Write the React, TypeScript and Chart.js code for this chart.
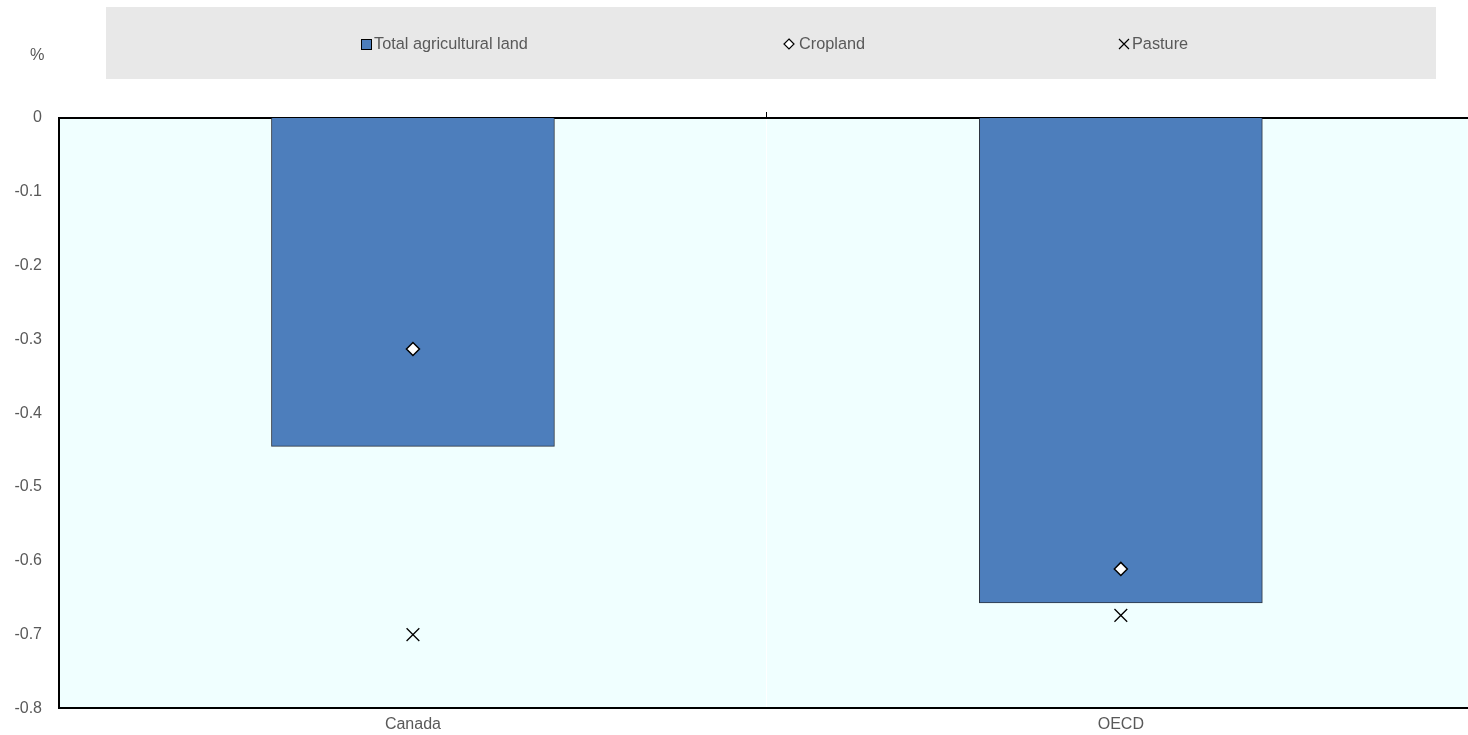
import React, { useEffect, useRef } from "react";
import { Chart, registerables } from "chart.js";

Chart.register(...registerables);

const categories = ["Canada", "OECD"];
const totalAgriculturalLand = [-0.445, -0.657];
const cropland = [-0.313, -0.611];
const pasture = [-0.7, -0.674];
const yTicks = [0, -0.1, -0.2, -0.3, -0.4, -0.5, -0.6, -0.7, -0.8];

const FONT = "'Liberation Sans', Arial, sans-serif";
const TEXT = "#595959";

const decorPlugin = {
  id: "decor",
  beforeDraw(chart: any) {
    const { ctx, chartArea } = chart;
    ctx.save();
    ctx.fillStyle = "#e8e8e8";
    ctx.fillRect(106, 7, 1330, 72);
    ctx.fillStyle = "#f0ffff";
    ctx.fillRect(chartArea.left, chartArea.top, chartArea.right - chartArea.left, chartArea.bottom - chartArea.top);
    ctx.restore();
  },
  afterDraw(chart: any) {
    const { ctx } = chart;
    ctx.save();
    ctx.font = `16.3px ${FONT}`;
    ctx.fillStyle = TEXT;
    ctx.textBaseline = "middle";
    ctx.textAlign = "left";
    ctx.fillText("%", 30, 56);
    const cy = 44;
    ctx.fillStyle = "#4d7ebc";
    ctx.fillRect(361, cy - 5, 10, 10);
    ctx.strokeStyle = "#000";
    ctx.lineWidth = 1;
    ctx.strokeRect(361.5, cy - 4.5, 10, 10);
    ctx.fillStyle = TEXT;
    ctx.fillText("Total agricultural land", 374, cy + 1);
    ctx.beginPath();
    ctx.moveTo(789, cy - 5);
    ctx.lineTo(794, cy);
    ctx.lineTo(789, cy + 5);
    ctx.lineTo(784, cy);
    ctx.closePath();
    ctx.fillStyle = "#fff";
    ctx.fill();
    ctx.strokeStyle = "#000";
    ctx.lineWidth = 1.2;
    ctx.stroke();
    ctx.fillStyle = TEXT;
    ctx.fillText("Cropland", 799, cy + 1);
    ctx.beginPath();
    ctx.moveTo(1119, cy - 5);
    ctx.lineTo(1129, cy + 5);
    ctx.moveTo(1129, cy - 5);
    ctx.lineTo(1119, cy + 5);
    ctx.strokeStyle = "#000";
    ctx.lineWidth = 1.2;
    ctx.stroke();
    ctx.fillStyle = TEXT;
    ctx.fillText("Pasture", 1132, cy + 1);
    ctx.restore();
  },
};

const CANVAS_W = 1478;

export default function App() {
  const ref = useRef<HTMLCanvasElement>(null);
  useEffect(() => {
    if (!ref.current) return;
    const chart = new Chart(ref.current, {
      type: "bar",
      data: {
        datasets: [
          {
            type: "bar",
            label: "Total agricultural land",
            data: categories.map((_, i) => ({ x: i, y: totalAgriculturalLand[i] })),
            backgroundColor: "#4d7ebc",
            borderColor: "#2c3440",
            borderWidth: 1,
            barThickness: 283,
            order: 3,
            xAxisID: "x",
            yAxisID: "y",
          } as any,
          {
            type: "scatter",
            label: "Cropland",
            data: categories.map((_, i) => ({ x: i, y: cropland[i] })),
            pointStyle: "rectRot",
            pointRadius: 6.5,
            backgroundColor: "#ffffff",
            borderColor: "#000000",
            borderWidth: 1.5,
            order: 1,
            xAxisID: "x",
            yAxisID: "y",
          } as any,
          {
            type: "scatter",
            label: "Pasture",
            data: categories.map((_, i) => ({ x: i, y: pasture[i] })),
            pointStyle: "crossRot",
            pointRadius: 9,
            backgroundColor: "#000000",
            borderColor: "#000000",
            borderWidth: 1.3,
            order: 2,
            xAxisID: "x",
            yAxisID: "y",
          } as any,
        ],
      },
      options: {
        animation: false,
        responsive: false,
        layout: { padding: 0 },
        plugins: { legend: { display: false }, tooltip: { enabled: false } },
        scales: {
          x: {
            type: "linear",
            position: "bottom",
            offset: false,
            min: -0.5,
            max: 1.49,
            afterBuildTicks: (s: any) => {
              s.ticks = categories.map((_, i) => ({ value: i }));
            },
            afterFit: (s: any) => {
              s.height = 25;
            },
            ticks: {
              callback: (v: any) => categories[Math.round(Number(v))] ?? "",
              color: TEXT,
              font: { family: FONT, size: 16 },
              padding: 7,
              maxRotation: 0,
              autoSkip: false,
            },
            grid: { display: false, offset: false, tickLength: 0, drawTicks: false },
            border: { display: true, color: "#000", width: 2 },
          },
          x2: {
            type: "linear",
            position: "top",
            offset: false,
            min: -0.5,
            max: 1.49,
            afterBuildTicks: (s: any) => {
              s.ticks = [{ value: 0.5 }];
            },
            afterFit: (s: any) => {
              s.height = 118;
            },
            ticks: { display: false },
            grid: {
              display: true,
              offset: false,
              drawOnChartArea: true,
              color: "#ffffff",
              tickColor: "#000000",
              tickLength: 6,
              lineWidth: 1,
            },
            border: { display: true, color: "#000", width: 2 },
          },
          y: {
            type: "linear",
            position: "left",
            min: -0.8,
            max: 0,
            afterBuildTicks: (s: any) => {
              s.ticks = yTicks.map((v) => ({ value: v }));
            },
            afterFit: (s: any) => {
              s.width = 59;
            },
            ticks: {
              callback: (v: any) => (Number(v) === 0 ? "0" : Number(v).toFixed(1)),
              color: TEXT,
              font: { family: FONT, size: 16 },
              padding: 17,
            },
            grid: { display: false, drawTicks: false, tickLength: 0 },
            border: { display: true, color: "#000", width: 2 },
          },
        },
      } as any,
      plugins: [decorPlugin],
    });
    return () => chart.destroy();
  }, []);
  return (
    <div style={{ position: "fixed", left: 0, top: 0, width: 1468, height: 735, background: "#fff", overflow: "hidden" }}>
      <canvas ref={ref} width={CANVAS_W} height={735} style={{ display: "block", width: CANVAS_W, height: 735 }} />
    </div>
  );
}
